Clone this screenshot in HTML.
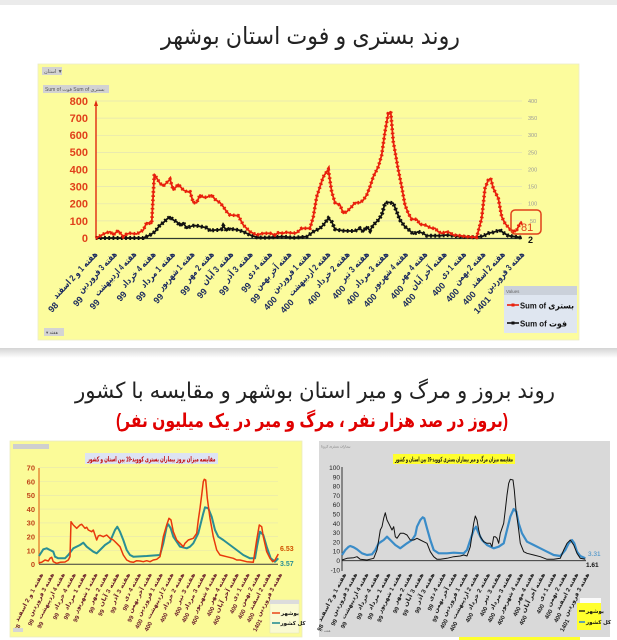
<!DOCTYPE html>
<html><head><meta charset="utf-8">
<style>
html,body{margin:0;padding:0;background:#fff;}
body{width:617px;height:640px;overflow:hidden;}
svg{display:block;}
text{font-family:"Liberation Sans","DejaVu Sans",sans-serif;}
</style></head>
<body>
<svg width="617" height="640" viewBox="0 0 617 640" xmlns="http://www.w3.org/2000/svg">
<defs>
<linearGradient id="sh" x1="0" y1="0" x2="0" y2="1">
<stop offset="0" stop-color="#d4d4d4"/><stop offset="1" stop-color="#ffffff"/>
</linearGradient>
</defs>
<rect x="0" y="0" width="617" height="640" fill="#fff"/>
<rect x="0" y="0" width="617" height="5" fill="#ebebeb"/>
<rect x="0" y="348" width="617" height="10" fill="url(#sh)"/>

<!-- Title 1 -->
<text x="310.5" y="44" font-size="24" text-anchor="middle" fill="#222" textLength="299" lengthAdjust="spacingAndGlyphs" direction="rtl">روند بستری و فوت استان بوشهر</text>

<!-- TOP CHART PANEL -->
<rect x="38" y="64" width="541" height="276" fill="#fcfc9d" stroke="#ebebc8" stroke-width="0.8"/>
<rect x="42" y="67" width="20" height="8" fill="#d2d2d2"/>
<text x="44" y="73" font-size="5" fill="#555">استان ▼</text>
<rect x="43" y="85" width="66" height="8" fill="#d2d2d2"/>
<text x="45" y="91" font-size="5" fill="#555">Sum of فوت  Sum of بستری</text>

<!-- gridlines -->
<g stroke="#e4e4b4" stroke-width="0.7">
<line x1="96" y1="101" x2="522" y2="101"/><line x1="96" y1="118.1" x2="522" y2="118.1"/>
<line x1="96" y1="135.3" x2="522" y2="135.3"/><line x1="96" y1="152.4" x2="522" y2="152.4"/>
<line x1="96" y1="169.5" x2="522" y2="169.5"/><line x1="96" y1="186.6" x2="522" y2="186.6"/>
<line x1="96" y1="203.8" x2="522" y2="203.8"/><line x1="96" y1="220.9" x2="522" y2="220.9"/>
</g>
<!-- left labels -->
<g font-size="11" font-weight="bold" fill="#e0401a" text-anchor="end">
<text x="88" y="105">800</text><text x="88" y="122">700</text><text x="88" y="139">600</text>
<text x="88" y="156">500</text><text x="88" y="173.5">400</text><text x="88" y="190.5">300</text>
<text x="88" y="207.5">200</text><text x="88" y="225">100</text><text x="88" y="242">0</text>
</g>
<!-- right labels -->
<g font-size="5.5" fill="#999">
<text x="528" y="103">400</text><text x="528" y="120">350</text><text x="528" y="137">300</text>
<text x="528" y="154.5">250</text><text x="528" y="171.5">200</text><text x="528" y="188.5">150</text>
<text x="528" y="205.5">100</text><text x="530" y="223">50</text>
</g>
<!-- axes -->
<line x1="96" y1="238.5" x2="522" y2="238.5" stroke="#2f3a30" stroke-width="1.3"/>
<line x1="96" y1="238" x2="96" y2="104" stroke="#e02a10" stroke-width="1.4"/>
<polygon points="96,100 94,106 98,106" fill="#e02a10"/>

<!-- series -->
<polyline fill="none" stroke="#111" stroke-width="1.8" stroke-linejoin="round" points="95.7,238 143.3,238 150,235 155,231.7 160,225 163.3,222.7 166.7,219.3 170,216.7 173.3,220 176.7,221.7 180,225.7 183.3,222.7 186.7,228.3 190,226.7 193.3,225.7 196.7,225.7 201.7,226.7 206.7,227.7 210,230.7 215,230 218.3,230 221.7,229.3 223.3,226 226.7,230.7 230,228.3 233.3,229.3 238.3,230 243.3,231.7 250,235 256.7,237.3 263.3,237.7 283.3,236.7 293.3,237.7 306.7,236.7 313.3,231.7 320,228.3 323.3,225 328.3,218.3 331.7,221.7 335,229.3 338.3,230 343.3,230.7 350,231 355,231 360,228.3 363.3,231.7 366.7,226.7 370,230.7 373.3,225 378.3,220 381.7,215 385,203.3 388.3,202.3 393.3,203.3 396.7,211.7 400,220 405,226.7 408.3,229.3 413.3,234 418.3,231.7 423.3,233.3 426.7,235.7 440,235.7 446.7,235 453.3,235.7 460,236.7 476.7,237.3 483.3,236 488.3,233.3 493.3,232.3 500,230 503.3,232.7 508.3,235.7 515,236.7 521.7,237.7"/>
<polyline fill="none" stroke="#111" stroke-width="4" stroke-dasharray="1.8 2.4" points="95.7,238 143.3,238 150,235 155,231.7 160,225 163.3,222.7 166.7,219.3 170,216.7 173.3,220 176.7,221.7 180,225.7 183.3,222.7 186.7,228.3 190,226.7 193.3,225.7 196.7,225.7 201.7,226.7 206.7,227.7 210,230.7 215,230 218.3,230 221.7,229.3 223.3,226 226.7,230.7 230,228.3 233.3,229.3 238.3,230 243.3,231.7 250,235 256.7,237.3 263.3,237.7 283.3,236.7 293.3,237.7 306.7,236.7 313.3,231.7 320,228.3 323.3,225 328.3,218.3 331.7,221.7 335,229.3 338.3,230 343.3,230.7 350,231 355,231 360,228.3 363.3,231.7 366.7,226.7 370,230.7 373.3,225 378.3,220 381.7,215 385,203.3 388.3,202.3 393.3,203.3 396.7,211.7 400,220 405,226.7 408.3,229.3 413.3,234 418.3,231.7 423.3,233.3 426.7,235.7 440,235.7 446.7,235 453.3,235.7 460,236.7 476.7,237.3 483.3,236 488.3,233.3 493.3,232.3 500,230 503.3,232.7 508.3,235.7 515,236.7 521.7,237.7"/>
<polyline fill="none" stroke="#e8200c" stroke-width="1.8" stroke-linejoin="round" points="95.7,238.3 100,236 105,233.3 110,231.7 113.3,235 116.7,231.7 118.3,230.7 123.3,236.7 126.7,234 130,233.3 136.7,234 143.3,230 146.7,222.7 150,223.3 151.7,223.3 154.3,174.3 160,183.3 163.3,186 170,179.3 173.3,190 178.3,184.3 183.3,190 186.7,191.7 190,191.7 193.3,202.7 196.7,202.7 200,195 203.3,197.3 206.7,197.3 211.7,195 215,199.3 220,202.7 223.3,206.7 226.7,211.7 230,215 238.3,215.7 243.3,225 250,231.7 256.7,235 263.3,233.3 270,233.3 275,235 278.3,232.7 283.3,233.3 286.7,232.3 293.3,233.3 296.7,232.7 301.7,228.3 306.7,228.3 310,228.3 313.3,216.7 316.7,196.7 320,186.7 323.3,176.7 328.3,169.5 331.7,191.7 335,202.7 340,205 343.3,213.3 346.7,211.7 351.7,206.7 355,202.7 360,202.7 363.3,200 366.7,195 370,186.7 373.3,176.7 378.3,166.7 381.7,155 385,131.7 388.3,113.3 390.7,111.7 393.3,141.7 397.7,166.7 401.7,186.7 405,205 408.3,213.3 411.7,219.3 416.7,219.3 420,224.3 425,225 428.3,226.7 431.7,228.3 435,228.3 438.3,231.7 441.7,233.3 446.7,231.7 450,232.7 453.3,235 460,235.7 466.7,236.7 476.7,237.3 481.7,218.3 485,188.3 488.3,180 490.7,178.3 493.3,188.3 498.3,198.3 501.7,216.7 505,223.3 510,229.3 515,231.7 516.7,230 520,223.3 522.3,222.7"/>
<polyline fill="none" stroke="#e8200c" stroke-width="3.6" stroke-dasharray="1.6 2.6" points="95.7,238.3 100,236 105,233.3 110,231.7 113.3,235 116.7,231.7 118.3,230.7 123.3,236.7 126.7,234 130,233.3 136.7,234 143.3,230 146.7,222.7 150,223.3 151.7,223.3 154.3,174.3 160,183.3 163.3,186 170,179.3 173.3,190 178.3,184.3 183.3,190 186.7,191.7 190,191.7 193.3,202.7 196.7,202.7 200,195 203.3,197.3 206.7,197.3 211.7,195 215,199.3 220,202.7 223.3,206.7 226.7,211.7 230,215 238.3,215.7 243.3,225 250,231.7 256.7,235 263.3,233.3 270,233.3 275,235 278.3,232.7 283.3,233.3 286.7,232.3 293.3,233.3 296.7,232.7 301.7,228.3 306.7,228.3 310,228.3 313.3,216.7 316.7,196.7 320,186.7 323.3,176.7 328.3,169.5 331.7,191.7 335,202.7 340,205 343.3,213.3 346.7,211.7 351.7,206.7 355,202.7 360,202.7 363.3,200 366.7,195 370,186.7 373.3,176.7 378.3,166.7 381.7,155 385,131.7 388.3,113.3 390.7,111.7 393.3,141.7 397.7,166.7 401.7,186.7 405,205 408.3,213.3 411.7,219.3 416.7,219.3 420,224.3 425,225 428.3,226.7 431.7,228.3 435,228.3 438.3,231.7 441.7,233.3 446.7,231.7 450,232.7 453.3,235 460,235.7 466.7,236.7 476.7,237.3 481.7,218.3 485,188.3 488.3,180 490.7,178.3 493.3,188.3 498.3,198.3 501.7,216.7 505,223.3 510,229.3 515,231.7 516.7,230 520,223.3 522.3,222.7"/>

<rect x="511" y="210" width="30" height="24" rx="4" fill="none" stroke="#e0401a" stroke-width="1.5"/>
<text x="521" y="231" font-size="11" fill="#e0401a">81</text>
<text x="528" y="243" font-size="9" font-weight="bold" fill="#111">2</text>

<!-- top x labels -->
<g font-size="9" font-weight="bold" fill="#1c2b5e">
<g transform="translate(93,250) rotate(-47)"><text x="0" y="7" text-anchor="end" textLength="61" lengthAdjust="spacingAndGlyphs">هفته 1 و 2 اسفند</text><text x="-64" y="13" text-anchor="end">98</text></g>
<g transform="translate(112.4,250) rotate(-47)"><text x="0" y="7" text-anchor="end" textLength="53" lengthAdjust="spacingAndGlyphs">هفته 3 فروردین</text><text x="-56" y="13" text-anchor="end">99</text></g>
<g transform="translate(131.8,250) rotate(-47)"><text x="0" y="7" text-anchor="end" textLength="57" lengthAdjust="spacingAndGlyphs">هفته 4 اردیبهشت</text><text x="-60" y="13" text-anchor="end">99</text></g>
<g transform="translate(151.2,250) rotate(-47)"><text x="0" y="7" text-anchor="end" textLength="46" lengthAdjust="spacingAndGlyphs">هفته 4 خرداد</text><text x="-49" y="13" text-anchor="end">99</text></g>
<g transform="translate(170.6,250) rotate(-47)"><text x="0" y="7" text-anchor="end" textLength="46" lengthAdjust="spacingAndGlyphs">هفته 1 مرداد</text><text x="-49" y="13" text-anchor="end">99</text></g>
<g transform="translate(190,250) rotate(-47)"><text x="0" y="7" text-anchor="end" textLength="49" lengthAdjust="spacingAndGlyphs">هفته 1 شهریور</text><text x="-52" y="13" text-anchor="end">99</text></g>
<g transform="translate(209.4,250) rotate(-47)"><text x="0" y="7" text-anchor="end" textLength="38" lengthAdjust="spacingAndGlyphs">هفته 2 مهر</text><text x="-41" y="13" text-anchor="end">99</text></g>
<g transform="translate(228.8,250) rotate(-47)"><text x="0" y="7" text-anchor="end" textLength="42" lengthAdjust="spacingAndGlyphs">هفته 3 آبان</text><text x="-45" y="13" text-anchor="end">99</text></g>
<g transform="translate(248.2,250) rotate(-47)"><text x="0" y="7" text-anchor="end" textLength="38" lengthAdjust="spacingAndGlyphs">هفته 3 آذر</text><text x="-41" y="13" text-anchor="end">99</text></g>
<g transform="translate(267.6,250) rotate(-47)"><text x="0" y="7" text-anchor="end" textLength="34" lengthAdjust="spacingAndGlyphs">هفته 4 دی</text><text x="-37" y="13" text-anchor="end">99</text></g>
<g transform="translate(287,250) rotate(-47)"><text x="0" y="7" text-anchor="end" textLength="49" lengthAdjust="spacingAndGlyphs">هفته آخر بهمن</text><text x="-52" y="13" text-anchor="end">99</text></g>
<g transform="translate(306.4,250) rotate(-47)"><text x="0" y="7" text-anchor="end" textLength="53" lengthAdjust="spacingAndGlyphs">هفته 1 فروردین</text><text x="-56" y="13" text-anchor="end">400</text></g>
<g transform="translate(325.8,250) rotate(-47)"><text x="0" y="7" text-anchor="end" textLength="57" lengthAdjust="spacingAndGlyphs">هفته 2 اردیبهشت</text><text x="-60" y="13" text-anchor="end">400</text></g>
<g transform="translate(345.2,250) rotate(-47)"><text x="0" y="7" text-anchor="end" textLength="46" lengthAdjust="spacingAndGlyphs">هفته 2 خرداد</text><text x="-49" y="13" text-anchor="end">400</text></g>
<g transform="translate(364.6,250) rotate(-47)"><text x="0" y="7" text-anchor="end" textLength="38" lengthAdjust="spacingAndGlyphs">هفته 3 تیر</text><text x="-41" y="13" text-anchor="end">400</text></g>
<g transform="translate(384,250) rotate(-47)"><text x="0" y="7" text-anchor="end" textLength="46" lengthAdjust="spacingAndGlyphs">هفته 3 مرداد</text><text x="-49" y="13" text-anchor="end">400</text></g>
<g transform="translate(403.4,250) rotate(-47)"><text x="0" y="7" text-anchor="end" textLength="49" lengthAdjust="spacingAndGlyphs">هفته 4 شهریور</text><text x="-52" y="13" text-anchor="end">400</text></g>
<g transform="translate(422.8,250) rotate(-47)"><text x="0" y="7" text-anchor="end" textLength="38" lengthAdjust="spacingAndGlyphs">هفته 4 مهر</text><text x="-41" y="13" text-anchor="end">400</text></g>
<g transform="translate(442.2,250) rotate(-47)"><text x="0" y="7" text-anchor="end" textLength="49" lengthAdjust="spacingAndGlyphs">هفته آخر آبان</text><text x="-52" y="13" text-anchor="end">400</text></g>
<g transform="translate(461.6,250) rotate(-47)"><text x="0" y="7" text-anchor="end" textLength="34" lengthAdjust="spacingAndGlyphs">هفته 1 دی</text><text x="-37" y="13" text-anchor="end">400</text></g>
<g transform="translate(481,250) rotate(-47)"><text x="0" y="7" text-anchor="end" textLength="42" lengthAdjust="spacingAndGlyphs">هفته 2 بهمن</text><text x="-45" y="13" text-anchor="end">400</text></g>
<g transform="translate(500.4,250) rotate(-47)"><text x="0" y="7" text-anchor="end" textLength="46" lengthAdjust="spacingAndGlyphs">هفته 2 اسفند</text><text x="-49" y="13" text-anchor="end">400</text></g>
<g transform="translate(519.8,250) rotate(-47)"><text x="0" y="7" text-anchor="end" textLength="53" lengthAdjust="spacingAndGlyphs">هفته 3 فروردین</text><text x="-56" y="13" text-anchor="end">1401</text></g>
</g>

<!-- top legend -->
<rect x="504" y="286" width="73" height="47" fill="#dfe6f0"/>
<rect x="504" y="286" width="73" height="9" fill="#cbd1da"/>
<text x="506" y="293" font-size="4.5" fill="#666">Values</text>
<line x1="507" y1="305" x2="519" y2="305" stroke="#e8200c" stroke-width="1.6"/>
<rect x="511.5" y="303.5" width="3" height="3" fill="#e8200c"/>
<text x="520" y="308.5" font-size="8.5" font-weight="bold" fill="#111" textLength="54" lengthAdjust="spacingAndGlyphs">Sum of بستری</text>
<line x1="507" y1="323" x2="519" y2="323" stroke="#111" stroke-width="1.6"/>
<rect x="511.5" y="321.5" width="3" height="3" fill="#111"/>
<text x="520" y="326.5" font-size="8.5" font-weight="bold" fill="#111" textLength="47" lengthAdjust="spacingAndGlyphs">Sum of فوت</text>

<rect x="44" y="328" width="20" height="8" fill="#d4d4d4"/>
<text x="46" y="334" font-size="4.5" fill="#555">▾ هفته</text>

<!-- Titles 2 & 3 -->
<text x="315" y="398" font-size="22" text-anchor="middle" fill="#222" textLength="480" lengthAdjust="spacingAndGlyphs" direction="rtl">روند بروز و مرگ و میر استان بوشهر و مقایسه با کشور</text>
<text x="312" y="427" font-size="19" font-weight="bold" text-anchor="middle" fill="#e00000" textLength="392" lengthAdjust="spacingAndGlyphs" direction="rtl" unicode-bidi="embed">(بروز در صد هزار نفر ، مرگ و میر در یک میلیون نفر)</text>

<!-- BOTTOM LEFT PANEL -->
<rect x="10" y="441" width="292" height="196" fill="#fbfb98" stroke="#ececc0" stroke-width="0.8"/>
<rect x="13" y="444" width="36" height="5" fill="#cfcfcf"/>
<rect x="85" y="453" width="133" height="11" fill="#dde3f3"/>
<text x="151.5" y="461.5" font-size="7" font-weight="bold" text-anchor="middle" fill="#c00000" textLength="128" lengthAdjust="spacingAndGlyphs" direction="rtl">مقایسه میزان بروز بیماران بستری کووید-19 بین استان و کشور</text>
<g stroke="#e6e6b0" stroke-width="0.6">
<line x1="39" y1="467.7" x2="278" y2="467.7"/><line x1="39" y1="481.5" x2="278" y2="481.5"/>
<line x1="39" y1="495.3" x2="278" y2="495.3"/><line x1="39" y1="509.1" x2="278" y2="509.1"/>
<line x1="39" y1="522.9" x2="278" y2="522.9"/><line x1="39" y1="536.7" x2="278" y2="536.7"/>
<line x1="39" y1="550.5" x2="278" y2="550.5"/>
</g>
<g font-size="7.5" font-weight="bold" fill="#c0451a" text-anchor="end">
<text x="35" y="470.5">70</text><text x="35" y="484.3">60</text><text x="35" y="498">50</text>
<text x="35" y="512">40</text><text x="35" y="525.7">30</text><text x="35" y="539.5">20</text>
<text x="35" y="553.3">10</text><text x="35" y="567">0</text>
</g>
<line x1="39" y1="468" x2="39" y2="564" stroke="#e07020" stroke-width="1.2"/>
<line x1="39" y1="564.3" x2="278" y2="564.3" stroke="#3a3a3a" stroke-width="1"/>
<polyline fill="none" stroke="#2a8f94" stroke-width="2" stroke-linejoin="round" points="39,556 43.3,549.3 46.7,548.3 50,550 53.3,551.7 55,556.7 58.3,558.3 61.7,558.3 65,558.3 68.3,555 73.3,548.3 80,545 83.3,542.7 86.7,546.7 93.3,551.7 96.7,553.3 100,550 105,545 110,541.7 115,530 117.3,526.7 120,531.7 123.3,540 126.7,550 130,555 133.3,556.7 146.7,556 160,555 163.3,543.3 166.7,526.7 168.3,524.3 170.7,528.3 173.3,536.7 180,546.7 186.7,548.3 190,546.7 193.3,543.3 198.3,533.3 203.3,513.3 205,507.3 208.3,508.3 211.7,516.7 215,530 218.3,536.7 223.3,540 230,545 236.7,550 243.3,555 250,558.3 255,558.3 257.3,545 260,531.7 263.3,535 266.7,546.7 270.7,558.3 275,561.7 278.3,558.3"/>
<polyline fill="none" stroke="#e8380c" stroke-width="1.5" stroke-linejoin="round" points="39,562.7 41.7,562.3 45,560 48.3,561 50,558.3 51.7,557.3 53.3,561.7 56.7,563.3 60,562.3 65,562 68.3,560 70,556.7 71,521.7 73.3,525 76.7,528.3 80,525 81.7,524.3 85,528.3 86.7,527.3 88.3,530 91.7,531.7 93.3,530 95,535 96.7,540 98.3,536 100,535.3 103.3,536.7 106.7,535 110,538.3 113.3,540 116.7,543.3 120,546.7 123.3,555 126.7,560 130,561.7 133.3,562.3 136.7,560.7 140,561 143.3,561.7 146.7,560.7 150,561.7 153.3,560 156.7,559.3 160,556.7 163.3,536.7 166.7,525 169,518.3 171,520 173.3,531.7 176.7,540 180,543.3 183.3,546.7 185,543.3 188.3,540 193.3,538.3 196.7,533.3 198.3,520 200,508.3 201.7,495 203.3,481.7 204.3,479.3 205.7,480 207.3,498.3 210,518.3 213.3,536.7 216.7,550 220,555 226.7,556.7 233.3,558.3 236.7,560 240,560 246.7,561.7 253.3,562.3 256.7,540 259.3,525 261.7,526.7 263.3,536.7 266.7,551.7 270,558.3 272.7,561.7 275,560 278.3,554"/>
<text x="280" y="551" font-size="7" font-weight="bold" fill="#d05000">6.53</text>
<text x="280" y="566" font-size="7" font-weight="bold" fill="#2a8f94">3.57</text>

<g font-size="6" font-weight="bold" fill="#6b1f2a">
<g transform="translate(39,572) rotate(-62)"><text x="0" y="5" text-anchor="end" textLength="54" lengthAdjust="spacingAndGlyphs">هفته 1 و 2 اسفند</text><text x="-56" y="9" text-anchor="end">98</text></g>
<g transform="translate(49.9,572) rotate(-62)"><text x="0" y="5" text-anchor="end" textLength="48" lengthAdjust="spacingAndGlyphs">هفته 3 فروردین</text><text x="-50" y="9" text-anchor="end">99</text></g>
<g transform="translate(60.7,572) rotate(-62)"><text x="0" y="5" text-anchor="end" textLength="51" lengthAdjust="spacingAndGlyphs">هفته 4 اردیبهشت</text><text x="-53" y="9" text-anchor="end">99</text></g>
<g transform="translate(71.6,572) rotate(-62)"><text x="0" y="5" text-anchor="end" textLength="41" lengthAdjust="spacingAndGlyphs">هفته 4 خرداد</text><text x="-43" y="9" text-anchor="end">99</text></g>
<g transform="translate(82.4,572) rotate(-62)"><text x="0" y="5" text-anchor="end" textLength="41" lengthAdjust="spacingAndGlyphs">هفته 1 مرداد</text><text x="-43" y="9" text-anchor="end">99</text></g>
<g transform="translate(93.3,572) rotate(-62)"><text x="0" y="5" text-anchor="end" textLength="44" lengthAdjust="spacingAndGlyphs">هفته 1 شهریور</text><text x="-46" y="9" text-anchor="end">99</text></g>
<g transform="translate(104.2,572) rotate(-62)"><text x="0" y="5" text-anchor="end" textLength="34" lengthAdjust="spacingAndGlyphs">هفته 2 مهر</text><text x="-36" y="9" text-anchor="end">99</text></g>
<g transform="translate(115,572) rotate(-62)"><text x="0" y="5" text-anchor="end" textLength="37" lengthAdjust="spacingAndGlyphs">هفته 3 آبان</text><text x="-39" y="9" text-anchor="end">99</text></g>
<g transform="translate(125.9,572) rotate(-62)"><text x="0" y="5" text-anchor="end" textLength="34" lengthAdjust="spacingAndGlyphs">هفته 3 آذر</text><text x="-36" y="9" text-anchor="end">99</text></g>
<g transform="translate(136.7,572) rotate(-62)"><text x="0" y="5" text-anchor="end" textLength="31" lengthAdjust="spacingAndGlyphs">هفته 4 دی</text><text x="-33" y="9" text-anchor="end">99</text></g>
<g transform="translate(147.6,572) rotate(-62)"><text x="0" y="5" text-anchor="end" textLength="44" lengthAdjust="spacingAndGlyphs">هفته آخر بهمن</text><text x="-46" y="9" text-anchor="end">99</text></g>
<g transform="translate(158.5,572) rotate(-62)"><text x="0" y="5" text-anchor="end" textLength="48" lengthAdjust="spacingAndGlyphs">هفته 1 فروردین</text><text x="-50" y="9" text-anchor="end">400</text></g>
<g transform="translate(169.3,572) rotate(-62)"><text x="0" y="5" text-anchor="end" textLength="51" lengthAdjust="spacingAndGlyphs">هفته 2 اردیبهشت</text><text x="-53" y="9" text-anchor="end">400</text></g>
<g transform="translate(180.2,572) rotate(-62)"><text x="0" y="5" text-anchor="end" textLength="41" lengthAdjust="spacingAndGlyphs">هفته 2 خرداد</text><text x="-43" y="9" text-anchor="end">400</text></g>
<g transform="translate(191,572) rotate(-62)"><text x="0" y="5" text-anchor="end" textLength="34" lengthAdjust="spacingAndGlyphs">هفته 3 تیر</text><text x="-36" y="9" text-anchor="end">400</text></g>
<g transform="translate(201.9,572) rotate(-62)"><text x="0" y="5" text-anchor="end" textLength="41" lengthAdjust="spacingAndGlyphs">هفته 3 مرداد</text><text x="-43" y="9" text-anchor="end">400</text></g>
<g transform="translate(212.8,572) rotate(-62)"><text x="0" y="5" text-anchor="end" textLength="44" lengthAdjust="spacingAndGlyphs">هفته 4 شهریور</text><text x="-46" y="9" text-anchor="end">400</text></g>
<g transform="translate(223.6,572) rotate(-62)"><text x="0" y="5" text-anchor="end" textLength="34" lengthAdjust="spacingAndGlyphs">هفته 4 مهر</text><text x="-36" y="9" text-anchor="end">400</text></g>
<g transform="translate(234.5,572) rotate(-62)"><text x="0" y="5" text-anchor="end" textLength="44" lengthAdjust="spacingAndGlyphs">هفته آخر آبان</text><text x="-46" y="9" text-anchor="end">400</text></g>
<g transform="translate(245.3,572) rotate(-62)"><text x="0" y="5" text-anchor="end" textLength="31" lengthAdjust="spacingAndGlyphs">هفته 1 دی</text><text x="-33" y="9" text-anchor="end">400</text></g>
<g transform="translate(256.2,572) rotate(-62)"><text x="0" y="5" text-anchor="end" textLength="37" lengthAdjust="spacingAndGlyphs">هفته 2 بهمن</text><text x="-39" y="9" text-anchor="end">400</text></g>
<g transform="translate(267,572) rotate(-62)"><text x="0" y="5" text-anchor="end" textLength="41" lengthAdjust="spacingAndGlyphs">هفته 2 اسفند</text><text x="-43" y="9" text-anchor="end">400</text></g>
<g transform="translate(277.9,572) rotate(-62)"><text x="0" y="5" text-anchor="end" textLength="48" lengthAdjust="spacingAndGlyphs">هفته 3 فروردین</text><text x="-50" y="9" text-anchor="end">1401</text></g>
</g>
<!-- left legend -->
<rect x="270" y="600" width="29" height="33" fill="#fafad2" stroke="#e2e2c0" stroke-width="0.5"/>
<rect x="270" y="600" width="29" height="4" fill="#dcdcdc"/>
<line x1="272" y1="613" x2="280" y2="613" stroke="#e8380c" stroke-width="1.4"/>
<text x="281" y="615" font-size="5.5" font-weight="bold" fill="#111">بوشهر</text>
<line x1="272" y1="623" x2="280" y2="623" stroke="#2a8f94" stroke-width="1.6"/>
<text x="280.5" y="625" font-size="5.5" font-weight="bold" fill="#111">کل کشور</text>
<rect x="13" y="628" width="10" height="4" fill="#d6d6d6"/>

<!-- BOTTOM RIGHT PANEL -->
<rect x="319" y="441" width="291" height="196" fill="#d9d9d9"/>
<text x="321" y="447.5" font-size="3.5" fill="#777">بیماران بستری کرونا</text>
<rect x="393" y="454" width="122" height="10" fill="#ffff2e"/>
<text x="454" y="461.5" font-size="6.5" font-weight="bold" text-anchor="middle" fill="#111" textLength="118" lengthAdjust="spacingAndGlyphs" direction="rtl">مقایسه میزان مرگ و میر بیماران بستری کووید-19 بین استان و کشور</text>
<g font-size="6.5" fill="#222" text-anchor="end">
<text x="340" y="470">100</text><text x="340" y="479.3">90</text><text x="340" y="488.6">80</text>
<text x="340" y="497.9">70</text><text x="340" y="507.2">60</text><text x="340" y="516.5">50</text>
<text x="340" y="525.8">40</text><text x="340" y="535.1">30</text><text x="340" y="544.4">20</text>
<text x="340" y="553.7">10</text><text x="340" y="563">0</text><text x="340" y="572.3">-10</text>
</g>
<line x1="342" y1="467" x2="342" y2="571" stroke="#222" stroke-width="0.9"/>
<line x1="342" y1="560.7" x2="586" y2="560.7" stroke="#222" stroke-width="0.9"/>
<polyline fill="none" stroke="#3a8cc8" stroke-width="2.2" stroke-linejoin="round" points="342,555 345.3,550 348.7,546.7 350.3,546 353.7,547.3 357,549.3 362,553.3 367,555 372,554.3 375.3,550 378.7,543.3 383.7,540 387,536.7 390.3,540 395.3,545 400.3,548.3 407,543.3 412,540 415.3,535 417,526.7 420.3,520 422.7,517.3 424.3,518.3 427,528.3 430.3,540 433.7,550 438.7,553.3 447,553.3 453.7,552.7 463.7,553.3 467,550 470.3,540 473.7,530 476,526.7 478.7,533.3 482,540 487,545 493.7,548.3 498.7,546.7 503.7,543.3 507,530 510.3,516.7 513.7,509 516.3,511.7 518.7,523.3 522,533.3 527,541.7 533.7,545 540.3,548.3 547,551.7 553.7,555 560.3,556 565.3,550 568.7,543.3 572,540 574.3,543.3 577,551.7 580.3,556 585.3,558.3"/>
<polyline fill="none" stroke="#111" stroke-width="1" stroke-linejoin="round" points="342,560 347,558.3 353.7,557.7 357,556.7 360.3,559.3 367,560 373.7,558.3 377,550 378.7,540 380.3,530 382,526.7 383.7,518.3 385.3,512.7 387,520 388.7,523.3 392,530 393.7,526.7 395.3,536.7 397,538.3 400.3,533.3 403.7,533.3 407,535 410.3,540 413.7,540 417,538.3 420.3,540 423.7,541.7 427,543.3 430.3,551.7 433.7,556.7 437,559.3 440.3,559.3 447,558.3 453.7,556.7 460.3,556 463.7,555 467,556 470.3,546.7 473.7,523.3 475.3,516 477,520 478.7,530 480.3,536.7 483.7,541.7 487,543.3 490.3,543.3 492,546.7 493.7,536.7 495.3,536.7 497,538.3 498.7,543.3 500.3,533.3 503.7,523.3 505.3,510 507,495 508.7,483.3 510.3,479.3 513,480 514.3,490 516,510 518.7,530 520.3,543.3 523.7,551.7 527,553.3 533.7,555 540.3,556.7 547,559.3 553.7,559.3 560.3,558.3 563.7,550 567,543.3 570.3,540 573.7,545 577,553.3 580.3,558.3 585.3,559.3"/>
<text x="588" y="556" font-size="6.5" fill="#3a8cc8">3.31</text>
<text x="586" y="567" font-size="6.5" font-weight="bold" fill="#111">1.61</text>

<g font-size="6" font-weight="bold" fill="#222">
<g transform="translate(342,572) rotate(-62)"><text x="0" y="5" text-anchor="end" textLength="54" lengthAdjust="spacingAndGlyphs">هفته 1 و 2 اسفند</text><text x="-56" y="9" text-anchor="end">98</text></g>
<g transform="translate(353,572) rotate(-62)"><text x="0" y="5" text-anchor="end" textLength="48" lengthAdjust="spacingAndGlyphs">هفته 3 فروردین</text><text x="-50" y="9" text-anchor="end">99</text></g>
<g transform="translate(364.1,572) rotate(-62)"><text x="0" y="5" text-anchor="end" textLength="51" lengthAdjust="spacingAndGlyphs">هفته 4 اردیبهشت</text><text x="-53" y="9" text-anchor="end">99</text></g>
<g transform="translate(375.2,572) rotate(-62)"><text x="0" y="5" text-anchor="end" textLength="41" lengthAdjust="spacingAndGlyphs">هفته 4 خرداد</text><text x="-43" y="9" text-anchor="end">99</text></g>
<g transform="translate(386.2,572) rotate(-62)"><text x="0" y="5" text-anchor="end" textLength="41" lengthAdjust="spacingAndGlyphs">هفته 1 مرداد</text><text x="-43" y="9" text-anchor="end">99</text></g>
<g transform="translate(397.3,572) rotate(-62)"><text x="0" y="5" text-anchor="end" textLength="44" lengthAdjust="spacingAndGlyphs">هفته 1 شهریور</text><text x="-46" y="9" text-anchor="end">99</text></g>
<g transform="translate(408.3,572) rotate(-62)"><text x="0" y="5" text-anchor="end" textLength="34" lengthAdjust="spacingAndGlyphs">هفته 2 مهر</text><text x="-36" y="9" text-anchor="end">99</text></g>
<g transform="translate(419.4,572) rotate(-62)"><text x="0" y="5" text-anchor="end" textLength="37" lengthAdjust="spacingAndGlyphs">هفته 3 آبان</text><text x="-39" y="9" text-anchor="end">99</text></g>
<g transform="translate(430.4,572) rotate(-62)"><text x="0" y="5" text-anchor="end" textLength="34" lengthAdjust="spacingAndGlyphs">هفته 3 آذر</text><text x="-36" y="9" text-anchor="end">99</text></g>
<g transform="translate(441.5,572) rotate(-62)"><text x="0" y="5" text-anchor="end" textLength="31" lengthAdjust="spacingAndGlyphs">هفته 4 دی</text><text x="-33" y="9" text-anchor="end">99</text></g>
<g transform="translate(452.5,572) rotate(-62)"><text x="0" y="5" text-anchor="end" textLength="44" lengthAdjust="spacingAndGlyphs">هفته آخر بهمن</text><text x="-46" y="9" text-anchor="end">99</text></g>
<g transform="translate(463.6,572) rotate(-62)"><text x="0" y="5" text-anchor="end" textLength="48" lengthAdjust="spacingAndGlyphs">هفته 1 فروردین</text><text x="-50" y="9" text-anchor="end">400</text></g>
<g transform="translate(474.6,572) rotate(-62)"><text x="0" y="5" text-anchor="end" textLength="51" lengthAdjust="spacingAndGlyphs">هفته 2 اردیبهشت</text><text x="-53" y="9" text-anchor="end">400</text></g>
<g transform="translate(485.7,572) rotate(-62)"><text x="0" y="5" text-anchor="end" textLength="41" lengthAdjust="spacingAndGlyphs">هفته 2 خرداد</text><text x="-43" y="9" text-anchor="end">400</text></g>
<g transform="translate(496.7,572) rotate(-62)"><text x="0" y="5" text-anchor="end" textLength="34" lengthAdjust="spacingAndGlyphs">هفته 3 تیر</text><text x="-36" y="9" text-anchor="end">400</text></g>
<g transform="translate(507.8,572) rotate(-62)"><text x="0" y="5" text-anchor="end" textLength="41" lengthAdjust="spacingAndGlyphs">هفته 3 مرداد</text><text x="-43" y="9" text-anchor="end">400</text></g>
<g transform="translate(518.8,572) rotate(-62)"><text x="0" y="5" text-anchor="end" textLength="44" lengthAdjust="spacingAndGlyphs">هفته 4 شهریور</text><text x="-46" y="9" text-anchor="end">400</text></g>
<g transform="translate(529.9,572) rotate(-62)"><text x="0" y="5" text-anchor="end" textLength="34" lengthAdjust="spacingAndGlyphs">هفته 4 مهر</text><text x="-36" y="9" text-anchor="end">400</text></g>
<g transform="translate(540.9,572) rotate(-62)"><text x="0" y="5" text-anchor="end" textLength="44" lengthAdjust="spacingAndGlyphs">هفته آخر آبان</text><text x="-46" y="9" text-anchor="end">400</text></g>
<g transform="translate(552,572) rotate(-62)"><text x="0" y="5" text-anchor="end" textLength="31" lengthAdjust="spacingAndGlyphs">هفته 1 دی</text><text x="-33" y="9" text-anchor="end">400</text></g>
<g transform="translate(563,572) rotate(-62)"><text x="0" y="5" text-anchor="end" textLength="37" lengthAdjust="spacingAndGlyphs">هفته 2 بهمن</text><text x="-39" y="9" text-anchor="end">400</text></g>
<g transform="translate(574.1,572) rotate(-62)"><text x="0" y="5" text-anchor="end" textLength="41" lengthAdjust="spacingAndGlyphs">هفته 2 اسفند</text><text x="-43" y="9" text-anchor="end">400</text></g>
<g transform="translate(585.1,572) rotate(-62)"><text x="0" y="5" text-anchor="end" textLength="48" lengthAdjust="spacingAndGlyphs">هفته 3 فروردین</text><text x="-50" y="9" text-anchor="end">1401</text></g>
</g>
<!-- right legend -->
<rect x="580" y="598" width="21" height="5" fill="#fafafa"/>
<rect x="577" y="603" width="24" height="27" fill="#ffff2e"/>
<line x1="579" y1="611" x2="585" y2="611" stroke="#111" stroke-width="1.3"/>
<text x="586" y="613" font-size="5.5" font-weight="bold" fill="#111">بوشهر</text>
<line x1="579" y1="622" x2="585" y2="622" stroke="#3a8cc8" stroke-width="1.6"/>
<text x="586" y="624" font-size="5.5" font-weight="bold" fill="#111">کل کشور</text>
<text x="321" y="632" font-size="3.5" fill="#777">7 هفته</text>
<rect x="459" y="637" width="121" height="3" fill="#ffff2e"/>
</svg>
</body></html>
